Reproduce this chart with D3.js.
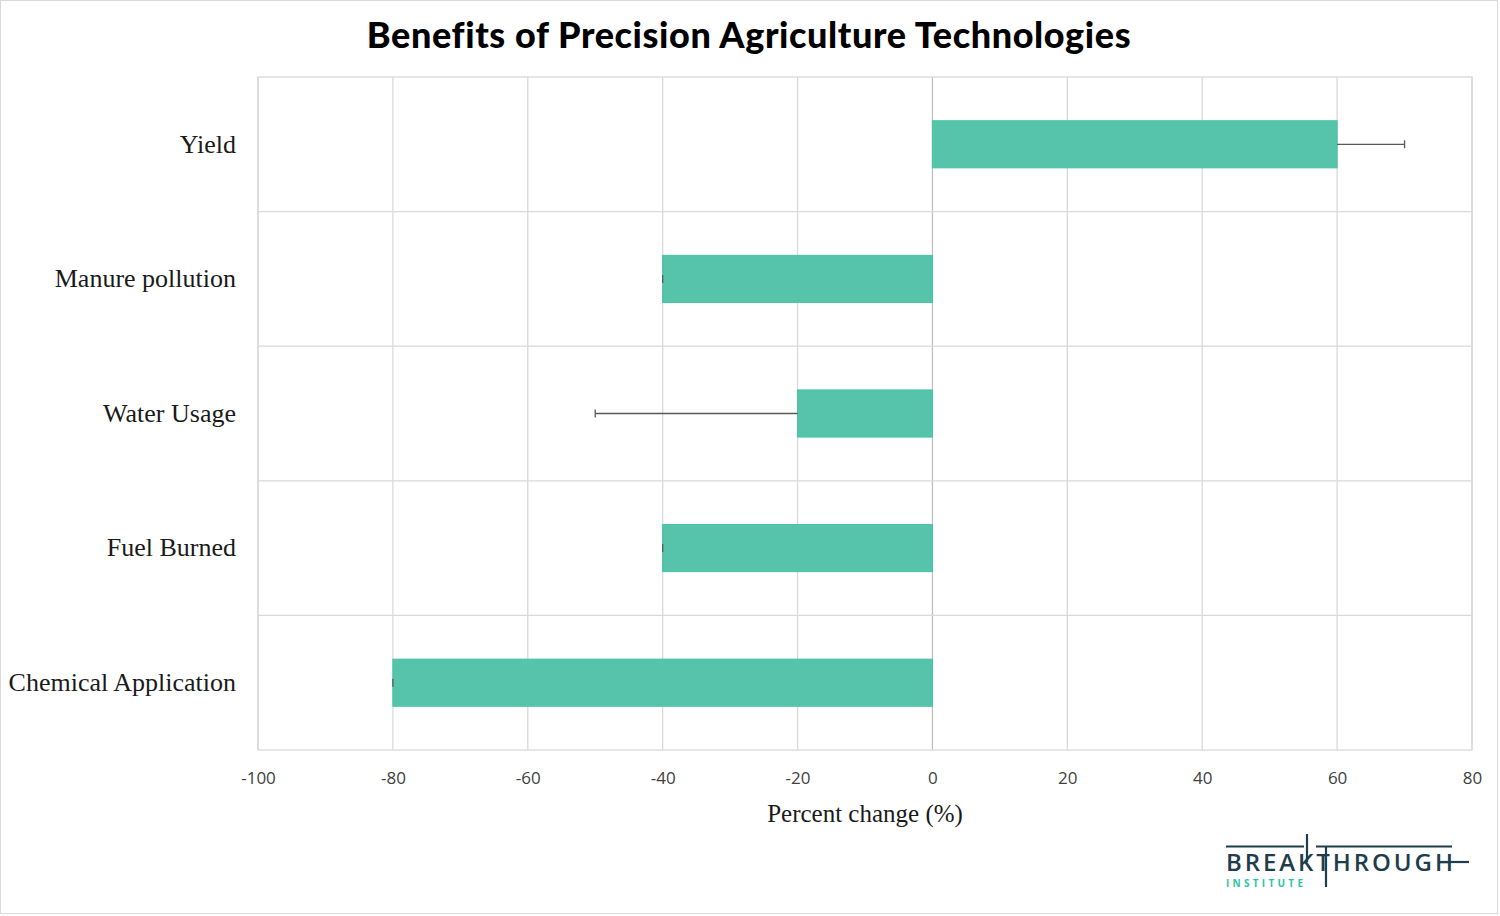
<!DOCTYPE html>
<html>
<head>
<meta charset="utf-8">
<script src="https://cdn.jsdelivr.net/npm/d3@7"></script>
<style>
  body { margin: 0; background: #fff; }
  svg { display: block; }
</style>
</head>
<body>
<div id="chart"></div>
<script>
// data
var categories = ["Yield", "Manure pollution", "Water Usage", "Fuel Burned", "Chemical Application"];
var values = [60, -40, -20, -40, -80];
var errors = [10, 0, -30, 0, 0]; // one-sided error, in direction of the bar
var xTicks = [-100, -80, -60, -40, -20, 0, 20, 40, 60, 80];

var width = 1500,
    height = 916,
    margin = {top: 77, right: 28, bottom: 166, left: 258};

var svg = d3.select("#chart").append("svg")
    .attr("width", width)
    .attr("height", height);

// outer frame
svg.append("rect")
    .attr("x", 0.5).attr("y", 0.5)
    .attr("width", width - 3).attr("height", height - 3)
    .attr("fill", "#fff")
    .attr("stroke", "#d9d9d9");

svg.append("text")
    .attr("x", 749)
    .attr("y", 48)
    .attr("text-anchor", "middle")
    .attr("font-family", "Lato, 'Noto Sans', sans-serif")
    .attr("font-weight", 900)
    .attr("font-size", 36)
    .attr("letter-spacing", 0.6)
    .attr("fill", "#000")
    .text("Benefits of Precision Agriculture Technologies");

var x = d3.scaleLinear()
    .domain([-100, 80])
    .range([margin.left, width - margin.right]);

var y = d3.scaleBand()
    .domain(categories)
    .range([margin.top, height - margin.bottom])
    .paddingInner(0)
    .paddingOuter(0);

var g = svg.append("g");

// vertical grid lines
g.selectAll(".vgrid")
    .data(xTicks)
    .enter().append("line")
    .attr("x1", function(d) { return x(d); })
    .attr("x2", function(d) { return x(d); })
    .attr("y1", margin.top)
    .attr("y2", height - margin.bottom)
    .attr("stroke", function(d) { return d === 0 ? "#bfbfbf" : "#d9d9d9"; })
    .attr("stroke-width", 1.3);

// horizontal separators between categories
g.selectAll(".hgrid")
    .data(categories.slice(1))
    .enter().append("line")
    .attr("x1", margin.left)
    .attr("x2", width - margin.right)
    .attr("y1", function(d) { return y(d); })
    .attr("y2", function(d) { return y(d); })
    .attr("stroke", "#d9d9d9")
    .attr("stroke-width", 1.3);

// plot frame
g.append("rect")
    .attr("x", margin.left)
    .attr("y", margin.top)
    .attr("width", x(80) - x(-100))
    .attr("height", height - margin.bottom - margin.top)
    .attr("fill", "none")
    .attr("stroke", "#d9d9d9")
    .attr("stroke-width", 1.3);

var barH = y.bandwidth() * 0.35;

g.selectAll(".bar")
    .data(categories)
    .enter().append("rect")
    .attr("x", function(d, i) { return x(Math.min(0, values[i])); })
    .attr("y", function(d) { return y(d) + (y.bandwidth() - barH) / 2; })
    .attr("width", function(d, i) { return Math.abs(x(values[i]) - x(0)); })
    .attr("height", barH)
    .attr("fill", "#55c4ab")
    .attr("stroke", "#47c2a5")
    .attr("stroke-width", 1);

// error bars
var eb = g.selectAll(".err")
    .data(categories)
    .enter().append("g")
    .attr("stroke", "#595959")
    .attr("stroke-width", 1.3);

eb.append("line")
    .attr("x1", function(d, i) { return x(values[i]); })
    .attr("x2", function(d, i) { return x(values[i] + errors[i]); })
    .attr("y1", function(d) { return y(d) + y.bandwidth() / 2; })
    .attr("y2", function(d) { return y(d) + y.bandwidth() / 2; });

eb.append("line")
    .attr("x1", function(d, i) { return x(values[i] + errors[i]); })
    .attr("x2", function(d, i) { return x(values[i] + errors[i]); })
    .attr("y1", function(d) { return y(d) + y.bandwidth() / 2 - 4; })
    .attr("y2", function(d) { return y(d) + y.bandwidth() / 2 + 4; });

// x axis labels
var xAxis = svg.append("g")
    .attr("transform", "translate(0," + (height - margin.bottom) + ")")
    .call(d3.axisBottom(x).tickValues(xTicks).tickSize(0).tickPadding(22)
        .tickFormat(function(d) { return String(d); }));
xAxis.select(".domain").remove();
xAxis.selectAll("text")
    .attr("font-family", "'Open Sans', 'Noto Sans', sans-serif")
    .attr("font-size", 17)
    .attr("fill", "#404040");

// category labels
var yAxis = svg.append("g")
    .attr("transform", "translate(" + margin.left + ",0)")
    .call(d3.axisLeft(y).tickSize(0).tickPadding(22));
yAxis.select(".domain").remove();
yAxis.selectAll("text")
    .attr("font-family", "'Liberation Serif', serif")
    .attr("font-size", 26)
    .attr("fill", "#1a1a1a");

svg.append("text")
    .attr("x", 865)
    .attr("y", 822)
    .attr("text-anchor", "middle")
    .attr("font-family", "'Liberation Serif', serif")
    .attr("font-size", 25)
    .attr("fill", "#1a1a1a")
    .text("Percent change (%)");

// logo
var logo = svg.append("g");
var navy = "#1f3d4c";
logo.append("text")
    .attr("x", 1226)
    .attr("y", 871)
    .attr("textLength", 227)
    .attr("lengthAdjust", "spacing")
    .attr("font-family", "'Open Sans', sans-serif")
    .attr("font-weight", 600)
    .attr("font-size", 24)
    .attr("fill", navy)
    .text("BREAKTHROUGH");
logo.append("text")
    .attr("x", 1226)
    .attr("y", 887)
    .attr("textLength", 77)
    .attr("lengthAdjust", "spacing")
    .attr("font-family", "'Open Sans', sans-serif")
    .attr("font-weight", 700)
    .attr("font-size", 10)
    .attr("fill", "#2ec4a5")
    .text("INSTITUTE");
var logoLines = [
    [1226, 846.5, 1304, 846.5],
    [1316, 846.5, 1452, 846.5],
    [1307, 834, 1307, 862],
    [1326, 846, 1326, 887],
    [1440, 862, 1469, 862]
];
logo.selectAll("line")
    .data(logoLines)
    .enter().append("line")
    .attr("x1", function(d) { return d[0]; })
    .attr("y1", function(d) { return d[1]; })
    .attr("x2", function(d) { return d[2]; })
    .attr("y2", function(d) { return d[3]; })
    .attr("stroke", navy)
    .attr("stroke-width", 2.2);
</script>
</body>
</html>
